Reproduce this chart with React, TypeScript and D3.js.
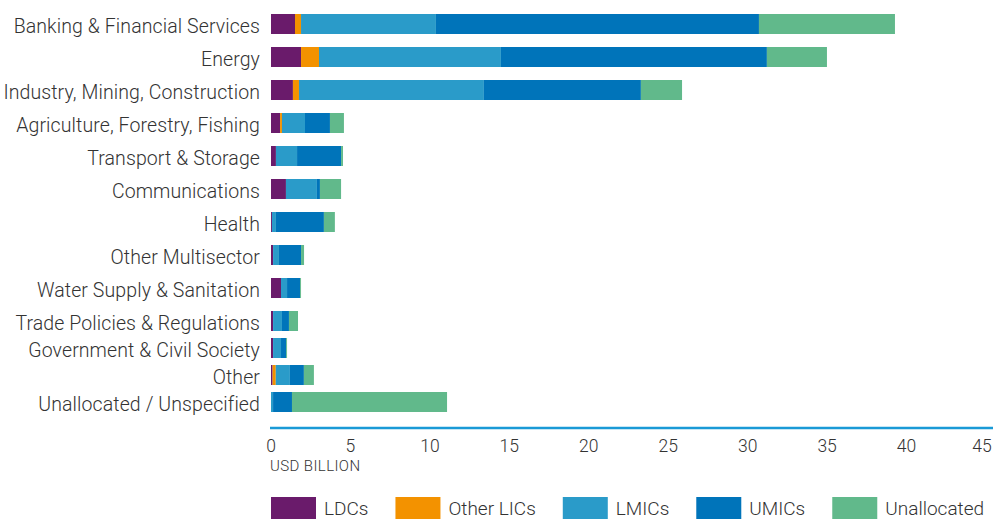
import React, { useEffect, useRef } from "react";
import * as d3 from "d3";

const categories = [
  "Banking & Financial Services",
  "Energy",
  "Industry, Mining, Construction",
  "Agriculture, Forestry, Fishing",
  "Transport & Storage",
  "Communications",
  "Health",
  "Other Multisector",
  "Water Supply & Sanitation",
  "Trade Policies & Regulations",
  "Government & Civil Society",
  "Other",
  "Unallocated / Unspecified",
];

const seriesNames = ["LDCs", "Other LICs", "LMICs", "UMICs", "Unallocated"];
const seriesColors = ["#6a1b6b", "#f39200", "#2a9bc9", "#0074ba", "#61b98b"];

const ldcs = [1.51, 1.89, 1.38, 0.57, 0.31, 0.94, 0.06, 0.13, 0.63, 0.13, 0.13, 0.1, 0.0];
const otherLics = [0.38, 1.13, 0.38, 0.12, 0, 0, 0, 0, 0, 0, 0, 0.2, 0];
const lmics = [8.49, 11.45, 11.64, 1.45, 1.33, 1.95, 0.25, 0.37, 0.38, 0.56, 0.5, 0.89, 0.13];
const umics = [20.33, 16.74, 9.88, 1.57, 2.77, 0.19, 3.02, 1.39, 0.82, 0.44, 0.32, 0.88, 1.19];
const unallocated = [8.56, 3.78, 2.59, 0.88, 0.12, 1.33, 0.69, 0.19, 0.06, 0.57, 0.06, 0.63, 9.76];

const xTicks = [0, 5, 10, 15, 20, 25, 30, 35, 40, 45];

const FONT = "Roboto, 'Open Sans', sans-serif";
const TEXT = "#333333";

const App = () => {
  const svgRef = useRef<SVGSVGElement>(null);

  useEffect(() => {
    const svg = d3.select(svgRef.current);
    svg.selectAll("*").remove();

    const width = 993;
    const height = 519;

    const rows = categories.map((c, i) => ({
      category: c,
      LDCs: ldcs[i],
      "Other LICs": otherLics[i],
      LMICs: lmics[i],
      UMICs: umics[i],
      Unallocated: unallocated[i],
    }));

    const x = d3.scaleLinear().domain([0, 45]).range([271, 986]);

    // the original spaces the last rows tighter, so two band scales
    const topCats = categories.slice(0, 10);
    const bottomCats = categories.slice(10);
    const yTop = d3.scaleBand().domain(topCats).range([14, 331]).paddingInner(13 / 33).paddingOuter(0);
    const yBottom = d3.scaleBand().domain(bottomCats).range([338, 412]).paddingInner(7 / 27).paddingOuter(0);
    const y = (c: string) => (topCats.includes(c) ? yTop(c)! : yBottom(c)!);
    const bh = yTop.bandwidth();

    const color = d3.scaleOrdinal<string>().domain(seriesNames).range(seriesColors);
    const stacked = d3.stack<any>().keys(seriesNames)(rows);

    // Bars
    svg.append("g")
      .selectAll("g")
      .data(stacked)
      .join("g")
      .attr("fill", d => color(d.key))
      .selectAll("rect")
      .data(d => d)
      .join("rect")
      .attr("x", d => x(d[0]))
      .attr("y", d => y(d.data.category))
      .attr("width", d => Math.max(0, x(d[1]) - x(d[0])))
      .attr("height", bh);

    // Category labels
    svg.append("g")
      .selectAll("text")
      .data(categories)
      .join("text")
      .attr("x", 260)
      .attr("y", d => y(d) + bh / 2 + 9)
      .attr("text-anchor", "end")
      .attr("font-family", FONT)
      .attr("font-weight", 300)
      .attr("font-size", 19.5)
      .attr("letter-spacing", 0.1)
      .attr("fill", TEXT)
      .text(d => d);

    // X-axis
    const axisY = 428;
    svg.append("line")
      .attr("x1", 270)
      .attr("x2", width)
      .attr("y1", axisY)
      .attr("y2", axisY)
      .attr("stroke", "#1a9ad6")
      .attr("stroke-width", 2.5);

    svg.append("g")
      .selectAll("text")
      .data(xTicks)
      .join("text")
      .attr("x", d => Math.min(x(d), width - 11))
      .attr("y", 452)
      .attr("text-anchor", "middle")
      .attr("font-family", FONT)
      .attr("font-weight", 300)
      .attr("font-size", 17.5)
      .attr("fill", TEXT)
      .text(d => d);

    svg.append("text")
      .attr("x", 270)
      .attr("y", 471)
      .attr("font-family", FONT)
      .attr("font-weight", 300)
      .attr("font-size", 15)
      .attr("letter-spacing", 0.4)
      .attr("fill", TEXT)
      .text("USD BILLION");

    // Legend
    const legend = svg.append("g");
    let lx = 271;
    seriesNames.forEach((name, i) => {
      legend.append("rect")
        .attr("x", lx)
        .attr("y", 497)
        .attr("width", 45)
        .attr("height", 22)
        .attr("fill", seriesColors[i]);
      const t = legend.append("text")
        .attr("x", lx + 53)
        .attr("y", 515)
        .attr("font-family", FONT)
        .attr("font-weight", 300)
        .attr("font-size", 19)
        .attr("fill", TEXT)
        .text(name);
      const w = (t.node() as SVGTextElement).getComputedTextLength();
      lx = lx + 53 + w + 27;
    });

    svg.attr("width", width).attr("height", height);
  }, []);

  return (
    <svg
      ref={svgRef}
      width={993}
      height={519}
      style={{ position: "absolute", left: 0, top: 0, display: "block" }}
    />
  );
};

export default App;
